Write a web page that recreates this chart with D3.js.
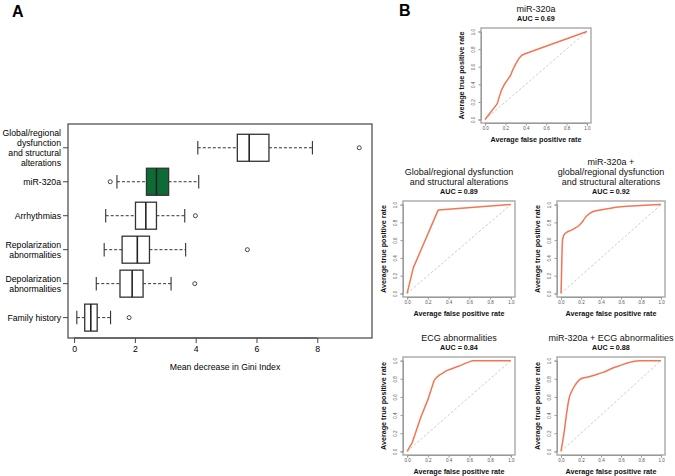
<!DOCTYPE html>
<html><head><meta charset="utf-8">
<script src="https://cdn.jsdelivr.net/npm/d3@7"></script>
<style>body{margin:0;background:#fff}svg{display:block;font-family:"Liberation Sans",Arial,sans-serif}</style>
</head><body><svg id="c" width="675" height="476"></svg>
<script>
// ---- Panel A data (mean decrease in Gini index) ----
const categories = ["Global/regional\ndysfunction\nand structural\nalterations","miR-320a","Arrhythmias","Repolarization\nabnormalities","Depolarization\nabnormalities","Family history"];
const whiskerLow  = [4.07, 1.41, 1.04, 0.99, 0.73, 0.09];
const q1          = [5.37, 2.38, 2.02, 1.58, 1.51, 0.35];
const medians     = [5.76, 2.71, 2.36, 2.08, 1.91, 0.55];
const q3          = [6.41, 3.11, 2.71, 2.48, 2.27, 0.76];
const whiskerHigh = [7.84, 4.10, 3.64, 3.67, 3.19, 1.20];
const outliers    = [[9.38],[1.19],[3.99],[5.70],[3.97],[1.81]];
const boxFills    = ["#ffffff","#0d6b36","#ffffff","#ffffff","#ffffff","#ffffff"];
const xTicksA = [0,2,4,6,8];

// ---- Panel B data (ROC curves) ----
const rocTitles = [["miR-320a"],["Global/regional dysfunction","and structural alterations"],["miR-320a +","global/regional dysfunction","and structural alterations"],["ECG abnormalities"],["miR-320a + ECG abnormalities"]];
const rocAUC = ["0.69","0.89","0.92","0.84","0.88"];
const fpr1 = [0,0.12,0.14,0.16,0.19,0.22,0.25,0.27,0.30,0.33,0.36,0.40,1];
const tpr1 = [0,0.18,0.26,0.33,0.40,0.45,0.50,0.56,0.63,0.69,0.73,0.75,1];
const fpr2 = [0,0.02,0.06,0.3,1];
const tpr2 = [0,0.1,0.29,0.94,1];
const fpr3 = [0,0.005,0.01,0.015,0.03,0.06,0.1,0.14,0.18,0.21,0.24,0.27,0.3,0.35,0.45,0.6,0.8,1];
const tpr3 = [0,0.2,0.45,0.6,0.66,0.69,0.71,0.735,0.765,0.8,0.85,0.885,0.91,0.93,0.95,0.975,0.99,1];
const fpr4 = [0,0.05,0.13,0.2,0.26,0.28,0.31,0.34,0.38,0.43,0.5,0.56,0.63,1];
const tpr4 = [0,0.1,0.37,0.57,0.78,0.81,0.84,0.86,0.89,0.91,0.94,0.97,1,1];
const fpr5 = [0,0.03,0.06,0.08,0.12,0.16,0.2,0.27,0.35,0.42,0.5,0.6,0.68,0.78,1];
const tpr5 = [0,0.2,0.45,0.58,0.69,0.76,0.8,0.82,0.845,0.87,0.91,0.95,0.98,1,1];
const rocFpr = [fpr1,fpr2,fpr3,fpr4,fpr5];
const rocTpr = [tpr1,tpr2,tpr3,tpr4,tpr5];
const rocTicks = [0,0.2,0.4,0.6,0.8,1.0];

const svg = d3.select("#c");

// Panel labels
svg.append("text").attr("x",12).attr("y",17).attr("font-size",16).attr("font-weight","bold").text("A");
svg.append("text").attr("x",399).attr("y",16).attr("font-size",16).attr("font-weight","bold").text("B");

// ---- Panel A ----
const A = {l:68, r:372, t:124, b:338};
const x = d3.scaleLinear().domain([-0.2,9.8]).range([A.l,A.r]);
const y = d3.scaleLinear().domain([0.3,6.6]).range([A.t,A.b]);
const gA = svg.append("g");
gA.append("rect").attr("x",A.l).attr("y",A.t).attr("width",A.r-A.l).attr("height",A.b-A.t)
  .attr("fill","none").attr("stroke","#444").attr("stroke-width",1.2);
const bh = 27;
categories.forEach((c,i)=>{
  const cy = y(i+1);
  const g = gA.append("g");
  g.append("line").attr("x1",x(whiskerLow[i])).attr("x2",x(q1[i])).attr("y1",cy).attr("y2",cy)
    .attr("stroke","#333").attr("stroke-dasharray","3,2").attr("stroke-width",1);
  g.append("line").attr("x1",x(q3[i])).attr("x2",x(whiskerHigh[i])).attr("y1",cy).attr("y2",cy)
    .attr("stroke","#333").attr("stroke-dasharray","3,2").attr("stroke-width",1);
  [whiskerLow[i],whiskerHigh[i]].forEach(v=>{
    g.append("line").attr("x1",x(v)).attr("x2",x(v)).attr("y1",cy-bh/4).attr("y2",cy+bh/4)
      .attr("stroke","#333").attr("stroke-width",1.1);
  });
  g.append("rect").attr("x",x(q1[i])).attr("y",cy-bh/2).attr("width",x(q3[i])-x(q1[i])).attr("height",bh)
    .attr("fill",boxFills[i]).attr("stroke","#333").attr("stroke-width",1.3);
  g.append("line").attr("x1",x(medians[i])).attr("x2",x(medians[i])).attr("y1",cy-bh/2).attr("y2",cy+bh/2)
    .attr("stroke","#222").attr("stroke-width",1.6);
  outliers[i].forEach(v=>{
    g.append("circle").attr("cx",x(v)).attr("cy",cy).attr("r",2).attr("fill","none").attr("stroke","#333").attr("stroke-width",0.9);
  });
  g.append("line").attr("x1",A.l-5).attr("x2",A.l).attr("y1",cy).attr("y2",cy).attr("stroke","#444");
  const lines = c.split("\n");
  const t = g.append("text").attr("text-anchor","end").attr("font-size",8.7).attr("fill","#000");
  lines.forEach((ln,k)=>{
    t.append("tspan").attr("x",A.l-7).attr("y",cy+3+(k-(lines.length-1)/2)*10).text(ln);
  });
});
const axA = gA.append("g").attr("transform",`translate(0,${A.b})`)
  .call(d3.axisBottom(x).tickValues(xTicksA).tickSize(5).tickPadding(3));
axA.select(".domain").attr("d",`M${x(0)},0H${x(8)}`).attr("stroke","#444");
axA.selectAll(".tick line").attr("stroke","#444");
axA.selectAll("text").attr("font-size",8.7).attr("fill","#000").attr("font-family","Liberation Sans, Arial, sans-serif");
gA.append("text").attr("x",225).attr("y",370).attr("text-anchor","middle").attr("font-size",8.7).attr("fill","#000").text("Mean decrease in Gini Index");

// ---- Panel B ----
const boxes = [{x:481,y:28,w:110,h:95},{x:403,y:201,w:112,h:96},{x:557,y:201,w:108,h:96},{x:403,y:357,w:112,h:98},{x:557,y:357,w:108,h:98}];
boxes.forEach((b,i)=>{
  const g = svg.append("g");
  const px = b.w*0.037, py = b.h*0.037;
  const sx = d3.scaleLinear().domain([0,1]).range([b.x+px, b.x+b.w-px]);
  const sy = d3.scaleLinear().domain([0,1]).range([b.y+b.h-py, b.y+py]);
  g.append("line").attr("x1",sx(0)).attr("y1",sy(0)).attr("x2",sx(1)).attr("y2",sy(1))
    .attr("stroke","#c4c4c4").attr("stroke-width",0.9).attr("stroke-dasharray","2.5,2");
  const pts = rocFpr[i].map((f,k)=>[f,rocTpr[i][k]]);
  const curve = (i===2||i===4) ? d3.curveMonotoneX : d3.curveLinear;
  g.append("path").datum(pts).attr("d",d3.line().x(d=>sx(d[0])).y(d=>sy(d[1])).curve(curve))
    .attr("fill","none").attr("stroke","#f47552").attr("stroke-width",1.5).attr("stroke-linejoin","round");
  g.append("rect").attr("x",b.x).attr("y",b.y).attr("width",b.w).attr("height",b.h)
    .attr("fill","none").attr("stroke","#a8a8a8").attr("stroke-width",1.4);
  const fmt = d3.format(".1f");
  const ax = g.append("g").attr("transform",`translate(0,${b.y+b.h})`)
    .call(d3.axisBottom(sx).tickValues(rocTicks).tickFormat(fmt).tickSize(2.5).tickPadding(1.5));
  const ay = g.append("g").attr("transform",`translate(${b.x},0)`)
    .call(d3.axisLeft(sy).tickValues(rocTicks).tickFormat(fmt).tickSize(2.5).tickPadding(1.5));
  [ax,ay].forEach(a=>{
    a.select(".domain").attr("stroke","#999");
    a.selectAll(".tick line").attr("stroke","#999");
    a.selectAll("text").attr("font-size",4.5).attr("fill","#555").attr("font-family","Liberation Sans, Arial, sans-serif");
  });
  ay.selectAll(".tick text").attr("text-anchor","middle").attr("dy",0)
    .attr("transform","translate(-6,0) rotate(-90)").attr("x",0).attr("y",0);
  const cx = b.x + b.w/2;
  g.append("text").attr("x",cx).attr("y",b.y+b.h+19).attr("text-anchor","middle")
    .attr("font-size",7.2).attr("font-weight","bold").attr("fill","#111").text("Average false positive rate");
  g.append("text").attr("transform",`translate(${b.x-17},${b.y+b.h/2}) rotate(-90)`).attr("text-anchor","middle")
    .attr("font-size",7.2).attr("font-weight","bold").attr("fill","#111").text("Average true positive rate");
  g.append("text").attr("x",cx).attr("y",b.y-7).attr("text-anchor","middle")
    .attr("font-size",7.2).attr("font-weight","bold").attr("fill","#111").text("AUC = "+rocAUC[i]);
  const tl = rocTitles[i];
  tl.forEach((ln,k)=>{
    g.append("text").attr("x",cx).attr("y",b.y-16-(tl.length-1-k)*10).attr("text-anchor","middle")
      .attr("font-size",9).attr("fill","#111").text(ln);
  });
});
</script></body></html>
